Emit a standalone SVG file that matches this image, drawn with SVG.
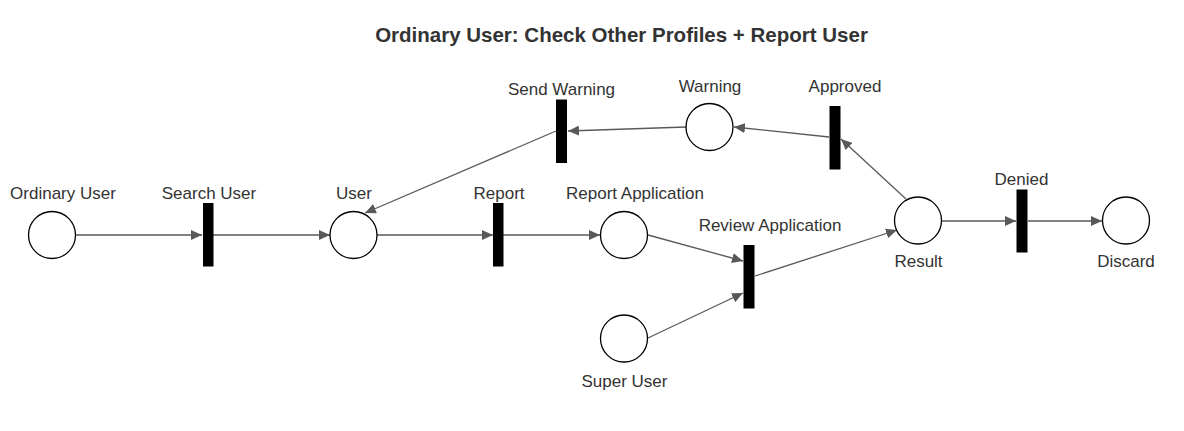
<svg xmlns="http://www.w3.org/2000/svg" width="1184" height="431" viewBox="0 0 1184 431">
<style>
.place{fill:#fff;stroke:#000;stroke-width:1.3}
.trans{fill:#000}
.lbl{font-family:"Liberation Sans",Arial,sans-serif;font-size:17px;fill:#333;text-anchor:middle}
.title{font-family:"Liberation Sans",Arial,sans-serif;font-size:20.5px;font-weight:bold;fill:#333;text-anchor:middle}
.edge{stroke:#595959;stroke-width:1.3;fill:none;marker-end:url(#arr)}
</style>
<defs>
<marker id="arr" markerUnits="userSpaceOnUse" markerWidth="12" markerHeight="10" refX="11" refY="5" orient="auto">
<path d="M0,0 L11,5 L0,10 z" fill="#595959"/>
</marker>
</defs>
<rect width="1184" height="431" fill="#fff"/>
<text class="title" x="621.5" y="42">Ordinary User: Check Other Profiles + Report User</text>
<g id="connectors">
<line class="edge" x1="76" y1="235" x2="202" y2="235"/>
<line class="edge" x1="213" y1="235" x2="330" y2="235"/>
<line class="edge" x1="377" y1="235" x2="493" y2="235"/>
<line class="edge" x1="503" y1="235" x2="600" y2="235"/>
<line class="edge" x1="648" y1="235" x2="743" y2="261"/>
<line class="edge" x1="648" y1="338" x2="743" y2="293"/>
<line class="edge" x1="755" y1="276" x2="897" y2="230"/>
<line class="edge" x1="906" y1="199" x2="841" y2="139"/>
<line class="edge" x1="829" y1="137" x2="734" y2="127"/>
<line class="edge" x1="686" y1="127" x2="568" y2="131"/>
<line class="edge" x1="556" y1="131" x2="365" y2="213"/>
<line class="edge" x1="942" y1="221" x2="1016" y2="221"/>
<line class="edge" x1="1028" y1="221" x2="1102" y2="221"/>
</g>
<g id="ordinary-user"><circle class="place" cx="52" cy="235" r="23.5"/><text class="lbl" x="63" y="199">Ordinary User</text></g>
<g id="search-user"><rect class="trans" x="203" y="203" width="10.5" height="63.5"/><text class="lbl" x="209" y="199">Search User</text></g>
<g id="user"><circle class="place" cx="353.5" cy="235" r="23.5"/><text class="lbl" x="354" y="199">User</text></g>
<g id="report"><rect class="trans" x="493" y="203" width="10.5" height="63.5"/><text class="lbl" x="499" y="199">Report</text></g>
<g id="report-application"><circle class="place" cx="624" cy="235" r="23.5"/><text class="lbl" x="635" y="199">Report Application</text></g>
<g id="super-user"><circle class="place" cx="624" cy="338.5" r="23.5"/><text class="lbl" x="624.5" y="387">Super User</text></g>
<g id="review-application"><rect class="trans" x="743.5" y="245" width="11" height="63.5"/><text class="lbl" x="770" y="231">Review Application</text></g>
<g id="result"><circle class="place" cx="918" cy="220.5" r="23.5"/><text class="lbl" x="918.5" y="267">Result</text></g>
<g id="approved"><rect class="trans" x="829.5" y="106" width="11" height="63.5"/><text class="lbl" x="845" y="92">Approved</text></g>
<g id="warning"><circle class="place" cx="709.5" cy="127" r="23.5"/><text class="lbl" x="710" y="92">Warning</text></g>
<g id="send-warning"><rect class="trans" x="556" y="99.5" width="11" height="63.5"/><text class="lbl" x="561.5" y="95">Send Warning</text></g>
<g id="denied"><rect class="trans" x="1016.5" y="189.5" width="11" height="63"/><text class="lbl" x="1021.5" y="184.5">Denied</text></g>
<g id="discard"><circle class="place" cx="1126" cy="220.5" r="23.5"/><text class="lbl" x="1126" y="267">Discard</text></g>
</svg>
